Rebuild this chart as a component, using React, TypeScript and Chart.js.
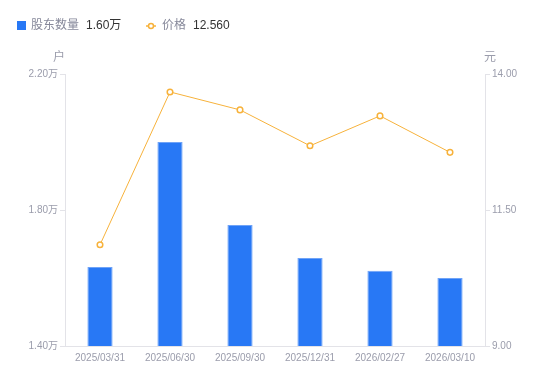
import React, { useEffect, useRef } from "react";
import { Chart, registerables } from "chart.js";

Chart.register(...registerables);

const categories = ["2025/03/31", "2025/06/30", "2025/09/30", "2025/12/31", "2026/02/27", "2026/03/10"];
const holders = [1.632, 2.0, 1.756, 1.659, 1.621, 1.6];
const prices = [10.86, 13.67, 13.34, 12.68, 13.23, 12.56];
const leftTicks = [1.4, 1.8, 2.2];
const rightTicks = [9, 11.5, 14];
const holderName = "股东数量";
const priceName = "价格";
const holderLatest = "1.60万";
const priceLatest = "12.560";
const leftUnit = "户";
const rightUnit = "元";

const FONT = "Arial, 'Liberation Sans', 'Noto Sans CJK SC', sans-serif";
const BLUE = "#2878f5";
const ORANGE = "#f7b23b";
const GREY = "#9a9cab";

const overlay = {
  id: "overlay",
  afterDraw(chart: any) {
    const ctx = chart.ctx;
    ctx.save();
    ctx.textBaseline = "middle";
    // legend
    ctx.fillStyle = BLUE;
    ctx.fillRect(17, 21, 9, 9);
    ctx.font = `12px ${FONT}`;
    ctx.fillStyle = "#86889a";
    ctx.textAlign = "left";
    ctx.fillText(holderName, 31, 26);
    ctx.fillStyle = "#333";
    ctx.fillText(holderLatest, 86, 26);
    ctx.strokeStyle = ORANGE;
    ctx.lineWidth = 1.5;
    ctx.beginPath();
    ctx.moveTo(146, 26);
    ctx.lineTo(156, 26);
    ctx.stroke();
    ctx.fillStyle = "#fff";
    ctx.beginPath();
    ctx.arc(151, 26, 2.5, 0, Math.PI * 2);
    ctx.fill();
    ctx.stroke();
    ctx.fillStyle = "#86889a";
    ctx.fillText(priceName, 162, 26);
    ctx.fillStyle = "#333";
    ctx.fillText(priceLatest, 193, 26);
    // axis units
    ctx.fillStyle = GREY;
    ctx.font = `12px ${FONT}`;
    ctx.textAlign = "center";
    ctx.fillText(leftUnit, 59, 58);
    ctx.fillText(rightUnit, 490, 58);
    ctx.restore();
  },
};

export default function App() {
  const ref = useRef<HTMLCanvasElement>(null);
  useEffect(() => {
    const chart = new Chart(ref.current!, {
      type: "bar",
      data: {
        labels: categories,
        datasets: [
          {
            type: "line",
            label: priceName,
            data: prices,
            yAxisID: "y1",
            borderColor: ORANGE,
            borderWidth: 1,
            pointRadius: 2.8,
            pointBorderWidth: 1.5,
            pointBackgroundColor: "#fff",
            pointBorderColor: ORANGE,
            tension: 0,
            order: 0,
          } as any,
          {
            type: "bar",
            label: holderName,
            data: holders,
            yAxisID: "y",
            backgroundColor: BLUE,
            borderColor: "#6fa3f7",
            borderWidth: { top: 1, left: 1, right: 1, bottom: 0 },
            barPercentage: 0.36,
            categoryPercentage: 1,
            order: 1,
          } as any,
        ],
      },
      options: {
        animation: false,
        responsive: false,
        maintainAspectRatio: false,
        layout: { padding: { top: 74, left: 0, right: 0, bottom: 0 } },
        plugins: { legend: { display: false }, tooltip: { enabled: false } },
        scales: {
          x: {
            offset: true,
            grid: { display: false, drawTicks: false },
            border: { display: true, color: "#e3e3e8", width: 1 },
            ticks: { color: GREY, font: { size: 10, family: FONT }, padding: 6, maxRotation: 0, autoSkip: false },
            afterFit(s: any) { s.height = 35; },
          },
          y: {
            position: "left",
            min: 1.4,
            max: 2.2,
            afterBuildTicks(s: any) { s.ticks = leftTicks.map((v) => ({ value: v })); },
            grid: { drawOnChartArea: false, drawTicks: true, tickLength: 5, color: "#e3e3e8" },
            border: { display: true, color: "#e3e3e8" },
            ticks: {
              color: GREY,
              font: { size: 10, family: FONT },
              padding: 2,
              callback: (v: any) => Number(v).toFixed(2) + "万",
            },
            afterFit(s: any) { s.width = 65; },
          },
          y1: {
            position: "right",
            min: 9,
            max: 14,
            afterBuildTicks(s: any) { s.ticks = rightTicks.map((v) => ({ value: v })); },
            grid: { drawOnChartArea: false, drawTicks: true, tickLength: 5, color: "#e3e3e8" },
            border: { display: true, color: "#e3e3e8" },
            ticks: {
              color: GREY,
              font: { size: 10, family: FONT },
              padding: 2,
              callback: (v: any) => Number(v).toFixed(2),
            },
            afterFit(s: any) { s.width = 65; },
          },
        },
      },
      plugins: [overlay],
    });
    return () => chart.destroy();
  }, []);
  return (
    <div style={{ position: "absolute", left: 0, top: 0, width: 550, height: 381, background: "#fff" }}>
      <canvas ref={ref} width={550} height={381} style={{ width: 550, height: 381, display: "block" }} />
    </div>
  );
}
